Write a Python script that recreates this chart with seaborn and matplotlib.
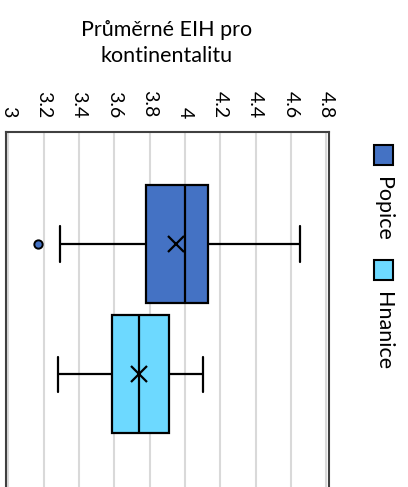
import matplotlib
matplotlib.use("Agg")
import matplotlib.pyplot as plt
from matplotlib.patches import Rectangle
import seaborn as sns
import pandas as pd

sns.set_theme(style='white')
plt.rcParams['font.family'] = ['Lato', 'DejaVu Sans']
plt.rcParams['text.color'] = 'black'
plt.rcParams['xtick.color'] = 'black'

# values (min/outlier, quartiles, median, max; mean fits the X marker)
SITES = ["Popice", "Hnanice"]
POPICE = [3.17, 3.29, 3.78, 3.90, 4.00, 4.08, 4.13, 4.55, 4.65]
HNANICE = [3.28, 3.50, 3.59, 3.66, 3.74, 3.85, 3.91, 4.03, 4.10]
COLORS = ["#4472C4", "#6DD9FF"]
TICKS = [3.0, 3.2, 3.4, 3.6, 3.8, 4.0, 4.2, 4.4, 4.6, 4.8]
TICK_LABELS = ["3", "3.2", "3.4", "3.6", "3.8", "4", "4.2", "4.4", "4.6", "4.8"]
TITLE = "Průměrné EIH pro\nkontinentalitu"

df = pd.DataFrame({"site": ["Popice"]*len(POPICE) + ["Hnanice"]*len(HNANICE),
                   "value": POPICE + HNANICE})

W, H = 408, 487
fig = plt.figure(figsize=(W/100, H/100), dpi=100)
# plot area runs off the bottom edge like in the original
ax = fig.add_axes([6/W, 1-495/H, (329.5-6)/W, (495-131.7)/H])

line = dict(color='black', linewidth=1.6)
sns.boxplot(data=df, x='value', y='site', hue='site', order=SITES, hue_order=SITES,
            palette=COLORS, saturation=1, width=0.91, legend=False, showmeans=True,
            linecolor='black', linewidth=1.6,
            boxprops=dict(edgecolor='black', linewidth=1.6),
            whiskerprops=line, capprops=line, medianprops=line,
            meanprops=dict(marker='x', markeredgecolor='black', markersize=11,
                           markeredgewidth=1.6),
            flierprops=dict(marker='o', markerfacecolor=COLORS[0], markeredgecolor='black',
                            markersize=6, markeredgewidth=1.4),
            ax=ax)

# shorten whisker caps
for ln in ax.lines:
    y = ln.get_ydata()
    x = ln.get_xdata()
    if len(x) == 2 and x[0] == x[1] and abs(y[1]-y[0]) > 0.3 and abs(y[1]-y[0]) < 0.6:
        c = (y[0]+y[1])/2
        ln.set_ydata([c-0.135, c+0.135])

ax.set_xlim(2.987, 4.819)
ax.set_ylim(1.93, -0.864)
ax.xaxis.tick_top()
ax.set_xticks(TICKS)
ax.set_xticklabels(TICK_LABELS)
ax.tick_params(axis='x', length=0, pad=10, labelrotation=-90, labelsize=14, colors='black')
ax.set_yticks([])
ax.set_xlabel('')
ax.set_ylabel('')
ax.grid(axis='x', color='#d9d9d9', linewidth=1.5)
ax.set_axisbelow(True)
for s in ax.spines.values():
    s.set_color('#404040')
    s.set_linewidth(1.5)

fig.text(167/W, 1-43/H, TITLE, ha='center', va='center', fontsize=15.5, linespacing=1.4)

# legend, rotated like the rest of the chart
leg_y = [145, 260]
for name, col, y0 in zip(SITES, COLORS, leg_y):
    fig.patches.append(Rectangle((374/W, 1-(y0+20)/H), 19/W, 20/H, transform=fig.transFigure,
                                 facecolor=col, edgecolor='black', linewidth=1.5))
    fig.text(383/W, 1-(y0+32)/H, name, rotation=-90, ha='center', va='top', fontsize=15.5)

fig.savefig("out.png", dpi=100)
